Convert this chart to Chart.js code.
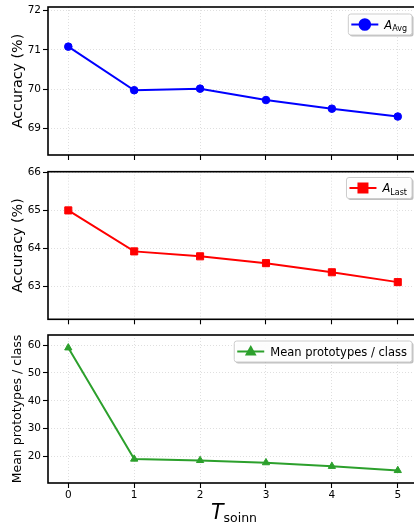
<!DOCTYPE html>
<html>
<head>
<meta charset="utf-8">
<script src="https://cdn.jsdelivr.net/npm/chart.js@4/dist/chart.umd.min.js"></script>
<style>
  html, body { margin: 0; padding: 0; background: #fff; overflow: hidden; width: 414px; height: 527px; }
  #wrap { position: relative; width: 414px; height: 527px; overflow: hidden; }
  canvas { position: absolute; left: 0; }
</style>
</head>
<body>
<div id="wrap">
  <canvas id="avgChart" width="424" height="163" style="top:0px"></canvas>
  <canvas id="lastChart" width="424" height="164" style="top:163px"></canvas>
  <canvas id="protoChart" width="424" height="200" style="top:327px"></canvas>
</div>
<script>
"use strict";

/* ---------- data ---------- */
const xValues = [0, 1, 2, 3, 4, 5];
const xTicks = [0, 1, 2, 3, 4, 5];

const accAvg = [71.08, 69.97, 70.01, 69.72, 69.50, 69.30];
const accLast = [65.00, 63.92, 63.79, 63.61, 63.37, 63.11];
const meanProtos = [59.0, 19.1, 18.6, 17.8, 16.5, 15.0];

const avgTicks = [69, 70, 71, 72];
const lastTicks = [63, 64, 65, 66];
const protoTicks = [20, 30, 40, 50, 60];

const FONT = "'DejaVu Sans', sans-serif";

/* ---------- drawing helpers ---------- */

function roundRect(ctx, x, y, w, h, r) {
  ctx.beginPath();
  ctx.moveTo(x + r, y);
  ctx.lineTo(x + w - r, y);
  ctx.arcTo(x + w, y, x + w, y + r, r);
  ctx.lineTo(x + w, y + h - r);
  ctx.arcTo(x + w, y + h, x + w - r, y + h, r);
  ctx.lineTo(x + r, y + h);
  ctx.arcTo(x, y + h, x, y + h - r, r);
  ctx.lineTo(x, y + r);
  ctx.arcTo(x, y, x + r, y, r);
  ctx.closePath();
}

function partFont(p) {
  return (p.italic ? "italic " : "") + p.size + "px " + FONT;
}

// text with italic symbol + subscript, mathtext style
function measureRich(ctx, parts) {
  let w = 0;
  parts.forEach(p => { ctx.font = partFont(p); w += ctx.measureText(p.text).width; });
  return w;
}

function drawRich(ctx, parts, x, baseline) {
  ctx.fillStyle = "#000";
  ctx.textAlign = "left";
  ctx.textBaseline = "alphabetic";
  parts.forEach(p => {
    ctx.font = partFont(p);
    ctx.fillText(p.text, x, baseline + (p.shift || 0));
    x += ctx.measureText(p.text).width;
  });
}

function drawMarker(ctx, style, x, y, r, color) {
  ctx.fillStyle = color;
  ctx.beginPath();
  if (style === "circle") {
    ctx.arc(x, y, r, 0, Math.PI * 2);
  } else if (style === "rect") {
    ctx.rect(x - r, y - r, 2 * r, 2 * r);
  } else {
    ctx.moveTo(x, y - r);
    ctx.lineTo(x + r * 0.9, y + r * 0.6);
    ctx.lineTo(x - r * 0.9, y + r * 0.6);
    ctx.closePath();
  }
  ctx.fill();
}

/* frame (all four spines) + legend box */
function framePlugin(legend, xTitle) {
  return {
    id: "frameLegend",
    afterDatasetsDraw(chart) {
      const { ctx, chartArea: a } = chart;
      ctx.save();
      ctx.strokeStyle = "#000";
      ctx.lineWidth = 1.6;
      ctx.strokeRect(a.left, a.top, a.right - a.left, a.bottom - a.top);

      // legend
      const pad = 3, handleLen = 27, gap = 6, rpad = 5, h = 21;
      const tw = measureRich(ctx, legend.parts);
      const w = pad + handleLen + gap + tw + rpad;
      const left = 412 - w;
      const top = a.top + legend.dy;

      ctx.fillStyle = "rgba(0,0,0,0.25)";
      roundRect(ctx, left + 1.5, top + 1.5, w, h, 2.5);
      ctx.fill();
      ctx.fillStyle = "rgba(255,255,255,0.97)";
      roundRect(ctx, left, top, w, h, 2.5);
      ctx.fill();
      ctx.strokeStyle = "#cccccc";
      ctx.lineWidth = 1;
      ctx.stroke();

      const cy = top + h / 2;
      ctx.strokeStyle = legend.color;
      ctx.lineWidth = 2;
      ctx.beginPath();
      ctx.moveTo(left + pad, cy);
      ctx.lineTo(left + pad + handleLen, cy);
      ctx.stroke();
      drawMarker(ctx, legend.marker, left + pad + handleLen / 2, cy, legend.markerSize, legend.color);
      drawRich(ctx, legend.parts, left + pad + handleLen + gap, cy + 4.2);

      // x axis title (bottom panel only)
      if (xTitle) {
        const tw2 = measureRich(ctx, xTitle);
        const cx = 234;
        drawRich(ctx, xTitle, cx - tw2 / 2, a.bottom + 35.5);
      }
      ctx.restore();
    }
  };
}

/* ---------- chart factory ---------- */

function makeChart(id, cfg) {
  const tickFont = { family: FONT, size: 10.5 };
  return new Chart(document.getElementById(id), {
    type: "line",
    data: {
      datasets: [{
        data: xValues.map((x, i) => ({ x: x, y: cfg.values[i] })),
        borderColor: cfg.color,
        backgroundColor: cfg.color,
        borderWidth: 2,
        pointStyle: cfg.pointStyle,
        pointRadius: cfg.pointRadius,
        pointBackgroundColor: cfg.color,
        pointBorderColor: cfg.color,
        pointBorderWidth: 1,
        tension: 0,
        fill: false
      }]
    },
    options: {
      responsive: false,
      animation: false,
      devicePixelRatio: 1,
      layout: { autoPadding: false, padding: { top: cfg.padTop, left: 0, right: 0, bottom: 0 } },
      plugins: { legend: { display: false }, tooltip: { enabled: false } },
      scales: {
        x: {
          type: "linear",
          min: -0.308,
          max: 5.398, // right spine falls just outside the 414px window, as in the original crop
          afterBuildTicks: s => { s.ticks = xTicks.map(v => ({ value: v })); },
          afterFit: s => {
            s.height = cfg.xAxisH;
            s.paddingLeft = 0;
            s.paddingRight = 0;
          },
          ticks: {
            display: true,
            color: "#000",
            font: tickFont,
            padding: 1,
            maxRotation: 0,
            autoSkip: false,
            callback: v => (cfg.showXLabels ? String(v) : "")
          },
          grid: {
            color: "rgba(0,0,0,0.16)",
            lineWidth: 0.8,
            drawTicks: true,
            tickLength: 5,
            tickColor: "#000",
            tickWidth: 1.1
          },
          border: { display: false, dash: [1, 2] }
        },
        y: {
          min: cfg.yMin,
          max: cfg.yMax,
          afterBuildTicks: s => { s.ticks = cfg.yTicks.map(v => ({ value: v })); },
          afterFit: s => {
            s.width = 48;
            s.paddingTop = 0;
            s.paddingBottom = 0;
          },
          ticks: { color: "#000", font: tickFont, padding: 2, autoSkip: false },
          grid: {
            color: "rgba(0,0,0,0.16)",
            lineWidth: 0.8,
            drawTicks: true,
            tickLength: 5,
            tickColor: "#000",
            tickWidth: 1.1
          },
          border: { display: false, dash: [1, 2] },
          title: {
            display: true,
            text: cfg.yTitle,
            color: "#000",
            font: { family: FONT, size: cfg.yTitleSize },
            padding: { top: cfg.yTitlePad, bottom: 0 }
          }
        }
      }
    },
    plugins: [framePlugin(cfg.legend, cfg.xTitle)]
  });
}

/* ---------- panels ---------- */

makeChart("avgChart", {
  values: accAvg, color: "#0000ff", pointStyle: "circle", pointRadius: 3.8,
  yMin: 68.32, yMax: 72.09, yTicks: avgTicks,
  yTitle: "Accuracy (%)", yTitleSize: 14.3, yTitlePad: 10,
  padTop: 7, xAxisH: 8, showXLabels: false,
  legend: {
    color: "#0000ff", marker: "circle", markerSize: 6.3, dy: 7,
    parts: [{ text: "A", italic: true, size: 11.5 }, { text: "Avg", size: 8, shift: 2.5 }]
  }
});

makeChart("lastChart", {
  values: accLast, color: "#ff0000", pointStyle: "rect", pointRadius: 5,
  yMin: 62.13, yMax: 66.02, yTicks: lastTicks,
  yTitle: "Accuracy (%)", yTitleSize: 14.3, yTitlePad: 10,
  padTop: 8.7, xAxisH: 7.7, showXLabels: false,
  legend: {
    color: "#ff0000", marker: "rect", markerSize: 5.5, dy: 5.8,
    parts: [{ text: "A", italic: true, size: 11.5 }, { text: "Last", size: 8, shift: 2.5 }]
  }
});

makeChart("protoChart", {
  values: meanProtos, color: "#2ca02c", pointStyle: "triangle", pointRadius: 4.2,
  yMin: 10.5, yMax: 63.6, yTicks: protoTicks,
  yTitle: "Mean prototypes / class", yTitleSize: 12.5, yTitlePad: 10.5,
  padTop: 8, xAxisH: 44, showXLabels: true,
  legend: {
    color: "#2ca02c", marker: "triangle", markerSize: 6.5, dy: 6,
    parts: [{ text: "Mean prototypes / class", size: 11.5 }]
  },
  xTitle: [{ text: "T", italic: true, size: 20.5 }, { text: "soinn", size: 12.5, shift: 3 }]
});
</script>
</body>
</html>
